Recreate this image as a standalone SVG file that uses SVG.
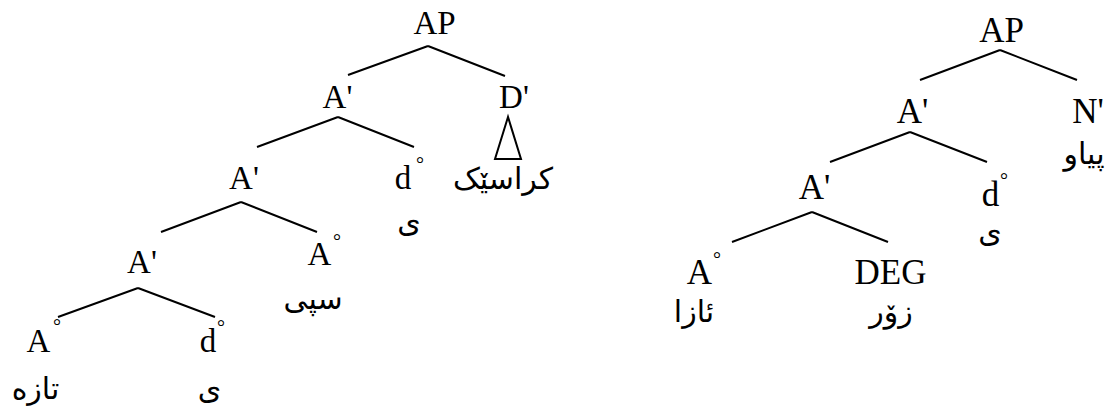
<svg xmlns="http://www.w3.org/2000/svg" width="1113" height="407" viewBox="0 0 1113 407">
<style>
.lbl{font-family:"Liberation Serif","Times New Roman",serif;font-size:33px;fill:#000;text-anchor:middle}
.lblR{font-family:"Liberation Serif","Times New Roman",serif;font-size:35px;fill:#000;text-anchor:middle}
.deg{font-family:"Liberation Serif","Times New Roman",serif;font-size:20px;fill:#000;text-anchor:middle}
.ar{font-family:"DejaVu Sans","Noto Sans",sans-serif;font-size:30px;fill:#000;text-anchor:middle}
.edge{stroke:#000;stroke-width:2;fill:none;stroke-linecap:butt}
</style>
<rect width="1113" height="407" fill="#fff"/>
<g id="connectors">
<path class="edge" d="M428,46 L348,75 M428,46 L505,76"/>
<path class="edge" d="M338,117 L257,147 M338,117 L414,147"/>
<path class="edge" d="M241,202 L161,232 M241,202 L317,232"/>
<path class="edge" d="M138,288 L58,317 M138,288 L215,317"/>
<polygon class="edge" points="508,117 495,159 521,159"/>
<path class="edge" d="M1000,50 L920,80 M1000,50 L1077,80"/>
<path class="edge" d="M910,132 L830,162 M910,132 L987,162"/>
<path class="edge" d="M812,212 L732,242 M812,212 L888,242"/>
</g>
<g id="L-AP"><text class="lbl" x="434.5" y="34">AP</text></g>
<g id="L-A1"><text class="lbl" x="337.5" y="108">A'</text></g>
<g id="L-D1"><text class="lbl" x="514" y="108">D'</text><text class="ar" x="503" y="189">کراسێک</text></g>
<g id="L-d2"><text class="lbl" x="403" y="189">d</text><text class="deg" x="420" y="171">°</text><text class="ar" x="409" y="232">ی</text></g>
<g id="L-A2"><text class="lbl" x="244" y="189">A'</text></g>
<g id="L-A3"><text class="lbl" x="142" y="273">A'</text></g>
<g id="L-A3r"><text class="lbl" x="319.5" y="265">A</text><text class="deg" x="337" y="248">°</text><text class="ar" x="313" y="309">سپی</text></g>
<g id="L-A4"><text class="lbl" x="38.5" y="352">A</text><text class="deg" x="57" y="333">°</text><text class="ar" x="35.5" y="399">تازه</text></g>
<g id="L-d4"><text class="lbl" x="208" y="352">d</text><text class="deg" x="221" y="334">°</text><text class="ar" x="209.5" y="399">ی</text></g>
<g id="R-AP"><text class="lblR" x="1001.5" y="42">AP</text></g>
<g id="R-A1"><text class="lblR" x="912.5" y="123">A'</text></g>
<g id="R-N1"><text class="lblR" x="1088" y="123">N'</text><text class="ar" x="1084" y="164">پیاو</text></g>
<g id="R-A2"><text class="lblR" x="814.5" y="199">A'</text></g>
<g id="R-d2"><text class="lblR" x="990.5" y="206">d</text><text class="deg" x="1004" y="187">°</text><text class="ar" x="990" y="242">ی</text></g>
<g id="R-A3"><text class="lblR" x="699.5" y="284">A</text><text class="deg" x="717" y="266">°</text><text class="ar" x="694" y="322">ئازا</text></g>
<g id="R-DEG"><text class="lblR" x="890.5" y="284">DEG</text><text class="ar" x="891" y="322">زۆر</text></g>
</svg>
